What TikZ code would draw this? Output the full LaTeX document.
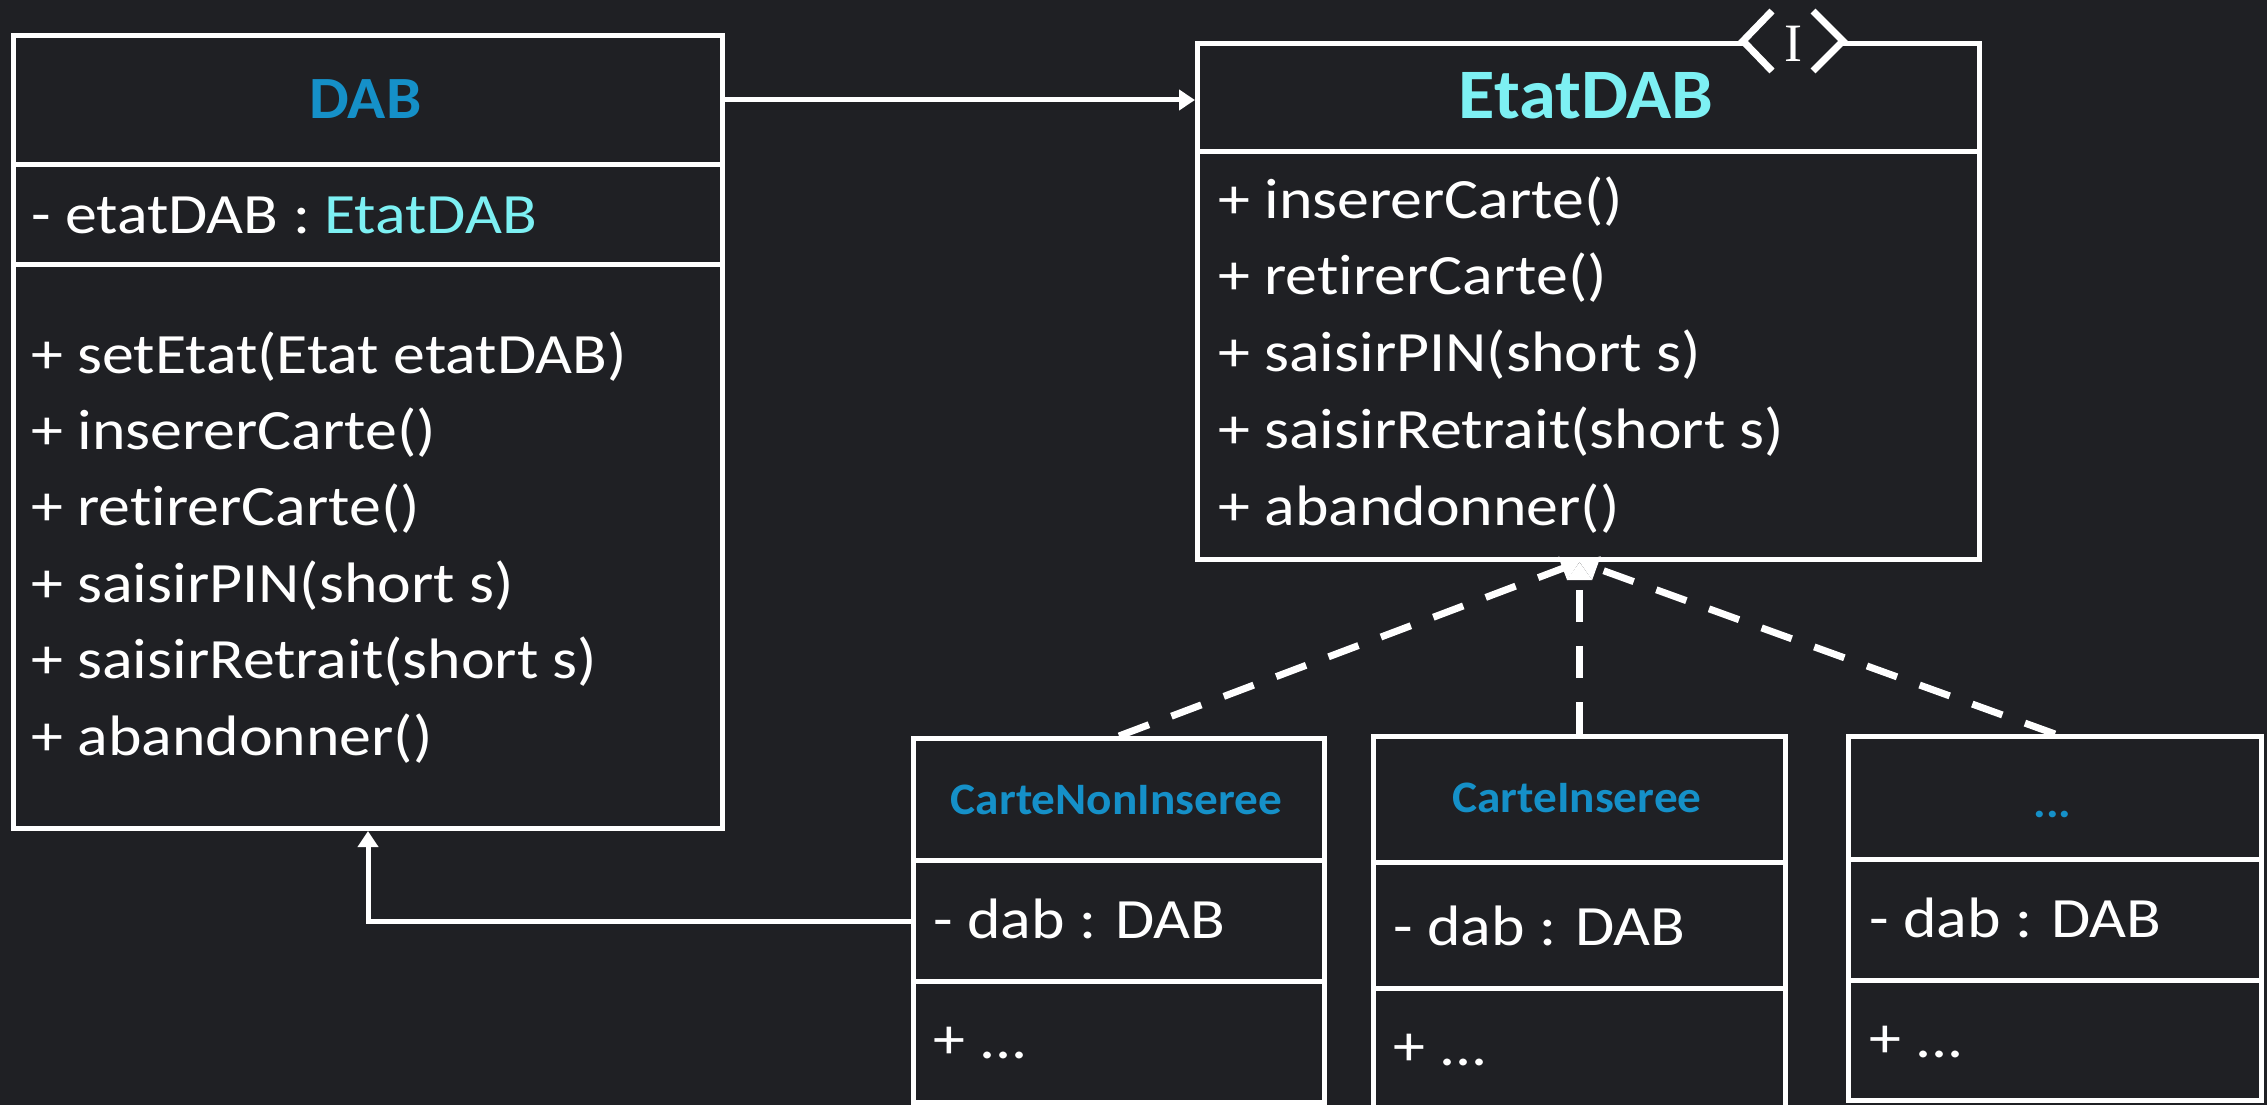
\documentclass[tikz,border=0pt]{standalone}
\usepackage{fontspec}
\setmainfont{Carlito}[Ligatures=NoCommon, FakeStretch=1.12]
\newfontfamily\namefont{Carlito}[Ligatures=NoCommon, FakeStretch=1.05]
\newfontfamily\serifI{Liberation Serif}
\usetikzlibrary{arrows.meta}
\definecolor{bgdark}{RGB}{31,32,36}
\definecolor{dabblue}{RGB}{21,144,200}
\definecolor{etatcyan}{RGB}{125,240,243}

\begin{document}
\begin{tikzpicture}[x=1pt, y=-1pt,
    box/.style={draw=white, line width=5pt, fill=bgdark, inner sep=0pt, anchor=north west},
    classname/.style={font=\namefont\bfseries\fontsize{60}{60}\selectfont, text=dabblue, anchor=base, inner sep=0pt},
    statename/.style={font=\namefont\bfseries\fontsize{45}{45}\selectfont, text=dabblue, anchor=base, inner sep=0pt},
    member/.style={font=\fontsize{57}{57}\selectfont, text=white, anchor=base west, inner sep=0pt},
    assoc/.style={draw=white, line width=5pt, -{Triangle[length=16pt,width=20pt]}},
    realise/.style={draw=white, line width=7pt, dash pattern=on 32pt off 24pt, -{Triangle[length=18pt,width=24pt]}}]
    \fill[bgdark] (0,0) rectangle (2267,1105);
    \useasboundingbox (0,0) rectangle (2267,1105);

      % DAB
      \node[box, minimum width=709pt, minimum height=129pt] (dabhead) at (11,33) {};
      \node[box, minimum width=709pt, minimum height=100pt] (dabattr) at (11,162) {};
      \node[box, minimum width=709pt, minimum height=564pt] (dabops) at (11,262) {};
      \node[classname] (dabname) at (365.5,119) {DAB};
      \node[member] (dabetat) at (31,233) {- etatDAB : \textcolor{etatcyan}{EtatDAB}};
      \foreach \op [count=\i from 0] in {+ setEtat(Etat etatDAB), + insererCarte(),
          + retirerCarte(), + saisirPIN(short s), + saisirRetrait(short s), + abandonner()}
      \node[member] (dabop\i) at ({31}, {373+76.4*\i}) {\op};

      % EtatDAB (interface)
      \node[box, minimum width=782pt, minimum height=107.5pt] (etathead) at (1195,41.5) {};
      \node[box, minimum width=782pt, minimum height=408pt] (etatops) at (1195,149) {};
      \node[classname, text=etatcyan, font=\namefont\bfseries\fontsize{71}{71}\selectfont] (etatname) at (1586,119) {EtatDAB};
      \foreach \op [count=\i from 0] in {+ insererCarte(), + retirerCarte(),
          + saisirPIN(short s), + saisirRetrait(short s), + abandonner()}
      \node[member] (etatop\i) at ({1218}, {218+76.75*\i}) {\op};

      % Interface symbol
      \fill[bgdark] (1743,41) -- (1772,11) -- (1813,11) -- (1843,41) -- (1813,71) -- (1772,71) -- cycle;
      \draw[white, line width=7pt] (1772,11) -- (1743,41) -- (1772,71);
      \draw[white, line width=7pt] (1813,11) -- (1843,41) -- (1813,71);
      \node[font=\serifI\fontsize{54}{54}\selectfont, text=white, anchor=base, inner sep=0pt] (ifsym) at (1793,62) {I};

      % CarteNonInseree
      \node[box, minimum width=411pt, minimum height=122pt] (c1head) at (911,736) {};
      \node[box, minimum width=411pt, minimum height=121pt] (c1attr) at (911,858) {};
      \node[box, minimum width=411pt, minimum height=121pt] (c1ops) at (911,979) {};
      \node[statename] (c1name) at (1116.5,814) {CarteNonInseree};
      \node[member] (c1dab) at (933,938) {- dab : DAB};
      \node[member] (c1op) at (933,1058) {+ ...};

      % CarteInseree
      \node[box, minimum width=412pt, minimum height=126pt] (c2head) at (1371,734) {};
      \node[box, minimum width=412pt, minimum height=126pt] (c2attr) at (1371,860) {};
      \node[box, minimum width=412pt, minimum height=126pt] (c2ops) at (1371,986) {};
      \node[statename] (c2name) at (1577,812) {CarteInseree};
      \node[member] (c2dab) at (1393,945) {- dab : DAB};
      \node[member] (c2op) at (1393,1065) {+ ...};

      % ...
      \node[box, minimum width=413pt, minimum height=123pt] (c3head) at (1846,734) {};
      \node[box, minimum width=413pt, minimum height=121pt] (c3attr) at (1846,857) {};
      \node[box, minimum width=413pt, minimum height=120pt] (c3ops) at (1846,978) {};
      \node[statename] (c3name) at (2052.5,817) {...};
      \node[member] (c3dab) at (1869,937) {- dab : DAB};
      \node[member] (c3op) at (1869,1057) {+ ...};

      % Associations
      \draw[assoc] (dabhead.east) -- (dabhead.east -| etathead.west);
      \draw[assoc] (c1attr.west) -| (dabops.south);

      % Realisations
      \coordinate (etatfoot) at (c2head.north |- etatops.south);
      \draw[realise] (c1head.north) -- (etatfoot);
      \draw[realise] (c2head.north) -- (etatfoot);
      \draw[realise] (c3head.north) -- (etatfoot);
  \end{tikzpicture}
\end{document}
